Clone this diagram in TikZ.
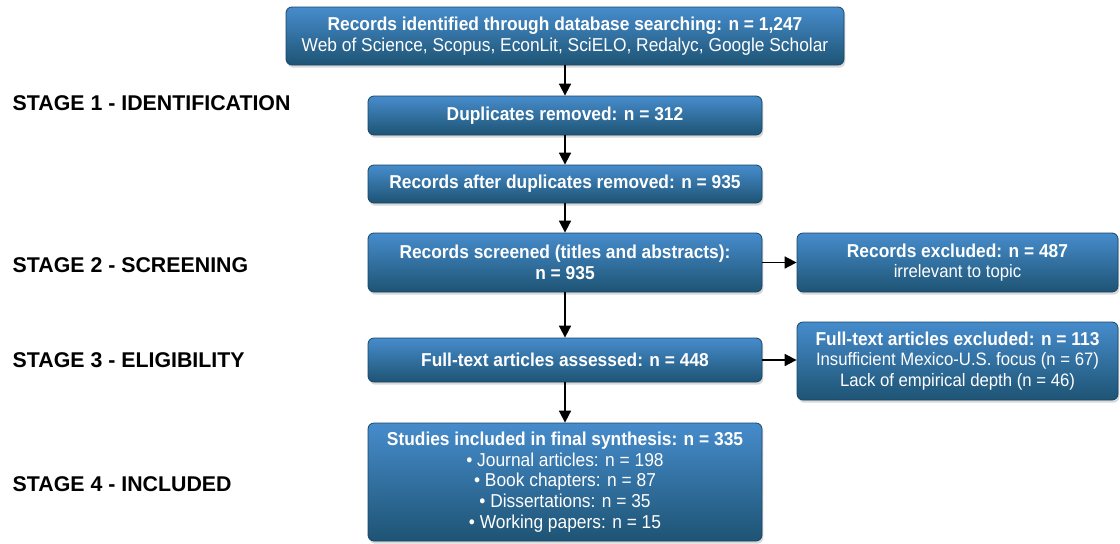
\documentclass[tikz,border=0pt]{standalone}
\usepackage{fontspec}
\setmainfont{Liberation Sans}
\newfontfamily\boxfont{Liberation Sans}[FakeStretch=0.93]
\usetikzlibrary{arrows.meta,shadows}
\definecolor{boxtop}{RGB}{70,140,204}
\definecolor{boxbot}{RGB}{30,84,116}
\definecolor{boxline}{RGB}{24,68,102}
\newcommand{\subline}{\fontsize{13.5}{15}\selectfont}
\newcommand{\itemline}{\fontsize{14}{15.75}\selectfont}

\begin{document}
\begin{tikzpicture}[x=0.75pt,y=-0.75pt]
\tikzset{flowbox/.style={draw=boxline,line width=0.6pt,rounded corners=4.5pt,top color=boxtop,bottom color=boxbot,text=white,align=center,inner sep=2pt,font=\boxfont\fontsize{14}{15.5}\selectfont,drop shadow={shadow xshift=1pt,shadow yshift=-2pt,opacity=0.3}},
stagelabel/.style={anchor=west,font=\fontsize{16}{19}\selectfont\bfseries},
flow/.style={-{Triangle[length=9pt,width=9pt]},line width=1.3pt}}
\useasboundingbox (0,0) rectangle (1120,543);
% main column
\node[flowbox,minimum width=418.5pt,minimum height=43.5pt] (ident) at (565,36) {\textbf{Records identified through database searching: n = 1,247}\\ \fontsize{14}{15}\selectfont Web of Science, Scopus, EconLit, SciELO, Redalyc, Google Scholar};
\node[flowbox,minimum width=295.5pt,minimum height=29.25pt] (dupl) at (565,115.5) {\textbf{Duplicates removed: n = 312}};
\node[flowbox,minimum width=295.5pt,minimum height=28.5pt] (after) at (565,184) {\textbf{Records after duplicates removed: n = 935}};
\node[flowbox,minimum width=295.5pt,minimum height=44.25pt] (screen) at (565,262.5) {\textbf{Records screened (titles and abstracts):}\\ \textbf{n = 935}};
\node[flowbox,minimum width=295.5pt,minimum height=33pt] (assess) at (565,360) {\textbf{Full-text articles assessed: n = 448}};
\node[flowbox,minimum width=295.5pt,minimum height=88.5pt] (incl) at (565,482) {\textbf{Studies included in final synthesis: n = 335}\\ \itemline • Journal articles: n = 198\\ \itemline • Book chapters: n = 87\\ \itemline • Dissertations: n = 35\\ \itemline • Working papers: n = 15};
% exclusions
\node[flowbox,minimum width=240.75pt,minimum height=44.25pt] (excl) at (957.5,262.5) {\textbf{Records excluded: n = 487}\\ \subline irrelevant to topic};
\node[flowbox,minimum width=240.75pt,minimum height=58.5pt] (fexcl) at (957.5,361) {\textbf{Full-text articles excluded: n = 113}\\ \subline Insufficient Mexico-U.S. focus (n = 67)\\ \subline Lack of empirical depth (n = 46)};
% stages
\node[stagelabel] (st1) at (8,103) {STAGE 1 - IDENTIFICATION};
\node[stagelabel] (st2) at (8,265) {STAGE 2 - SCREENING};
\node[stagelabel] (st3) at (8,360) {STAGE 3 - ELIGIBILITY};
\node[stagelabel] (st4) at (8,484) {STAGE 4 - INCLUDED};
% arrows
\draw[flow] (ident) -- (dupl);
\draw[flow] (dupl) -- (after);
\draw[flow] (after) -- (screen);
\draw[flow] (screen) -- (assess);
\draw[flow] (assess) -- (incl);
\draw[flow] (screen) -- (excl);
\draw[flow] (assess) -- (assess -| fexcl.west);
\end{tikzpicture}
\end{document}
